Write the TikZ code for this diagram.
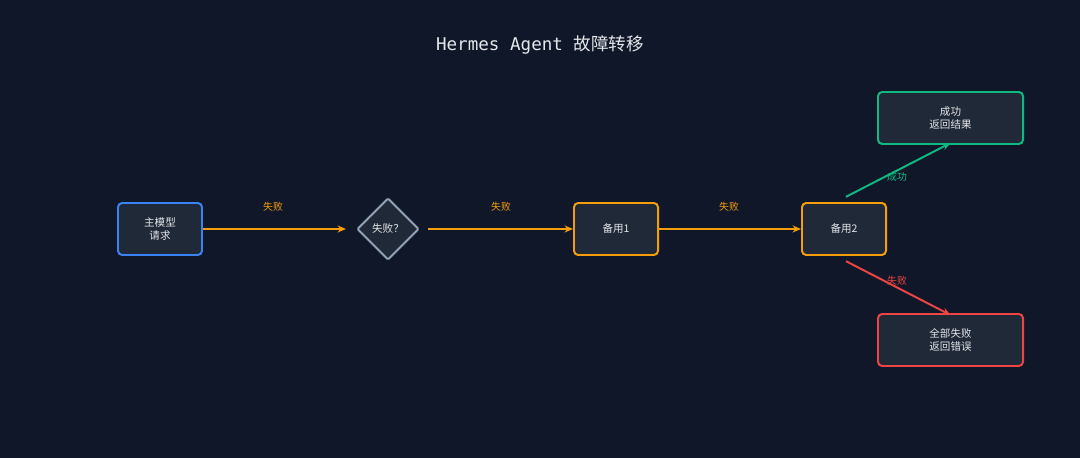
\documentclass[tikz,border=0pt]{standalone}
\usepackage{fontspec}
\setmainfont{Noto Sans CJK SC}
\newfontfamily\cjk{Noto Sans CJK SC}
\newfontfamily\monofont{DejaVu Sans Mono}
\usetikzlibrary{arrows.meta,shapes.geometric}

\definecolor{bgdark}{HTML}{0F1729}
\definecolor{boxfill}{HTML}{1F2937}
\definecolor{txtlight}{HTML}{E5E7EB}
\definecolor{cblue}{HTML}{3B82F6}
\definecolor{corange}{HTML}{F59E0B}
\definecolor{cgreen}{HTML}{10B981}
\definecolor{cred}{HTML}{EF4444}
\definecolor{cgray}{HTML}{94A3B8}

\begin{document}
\begin{tikzpicture}[x=0.025cm,y=-0.025cm]
\fill[bgdark] (0,0) rectangle (1080,458);
\useasboundingbox (0,0) rectangle (1080,458);

\node[text=txtlight,font=\fontsize{12.5}{14}\selectfont] (title) at (540,45)
    {{\monofont Hermes Agent }{\cjk 故障转移}};

\begin{scope}[every node/.style={rectangle,rounded corners=3pt,line width=1.4pt,
              fill=boxfill,text=txtlight,align=center,
              font=\fontsize{7.5}{9}\selectfont,minimum height=1.3cm}]
    \node[draw=cblue,minimum width=2.1cm] (main) at (160,229) {主模型\\请求};
    \node[draw=cgray,diamond,aspect=1,minimum size=1.55cm,inner sep=0pt,
          rounded corners=1pt] (check) at (388,229) {失败？};
    \node[draw=corange,minimum width=2.1cm] (bak1) at (616,229) {备用1};
    \node[draw=corange,minimum width=2.1cm] (bak2) at (844,229) {备用2};
    \node[draw=cgreen,minimum width=3.625cm] (ok) at (950.5,118) {成功\\返回结果};
    \node[draw=cred,minimum width=3.625cm] (err) at (950.5,340) {全部失败\\返回错误};
\end{scope}

\begin{scope}[>={Stealth[length=6pt,width=5pt]},
              every node/.style={font=\fontsize{7}{8}\selectfont},
              every edge/.style={draw,line width=1.4pt}]
    \path [->,corange] (main.east) edge ([xshift=-0.25cm]check.west);
    \path [->,corange] ([xshift=0.2cm]check.east) edge (bak1.west);
    \path [->,corange] (bak1.east) edge (bak2.west);
    \path [->,cgreen] ([xshift=0.05cm,yshift=0.13cm]bak2.north) edge ([yshift=0.05cm]ok.south);
    \path [->,cred] ([xshift=0.05cm,yshift=-0.13cm]bak2.south) edge ([yshift=-0.05cm]err.north);
    \node[text=corange] (lab1) at (273,207) {失败};
    \node[text=corange] (lab2) at (501,207) {失败};
    \node[text=corange] (lab3) at (729,207) {失败};
    \node[text=cgreen] (lab4) at (897,177) {成功};
    \node[text=cred] (lab5) at (897,281) {失败};
\end{scope}
\end{tikzpicture}
\end{document}
